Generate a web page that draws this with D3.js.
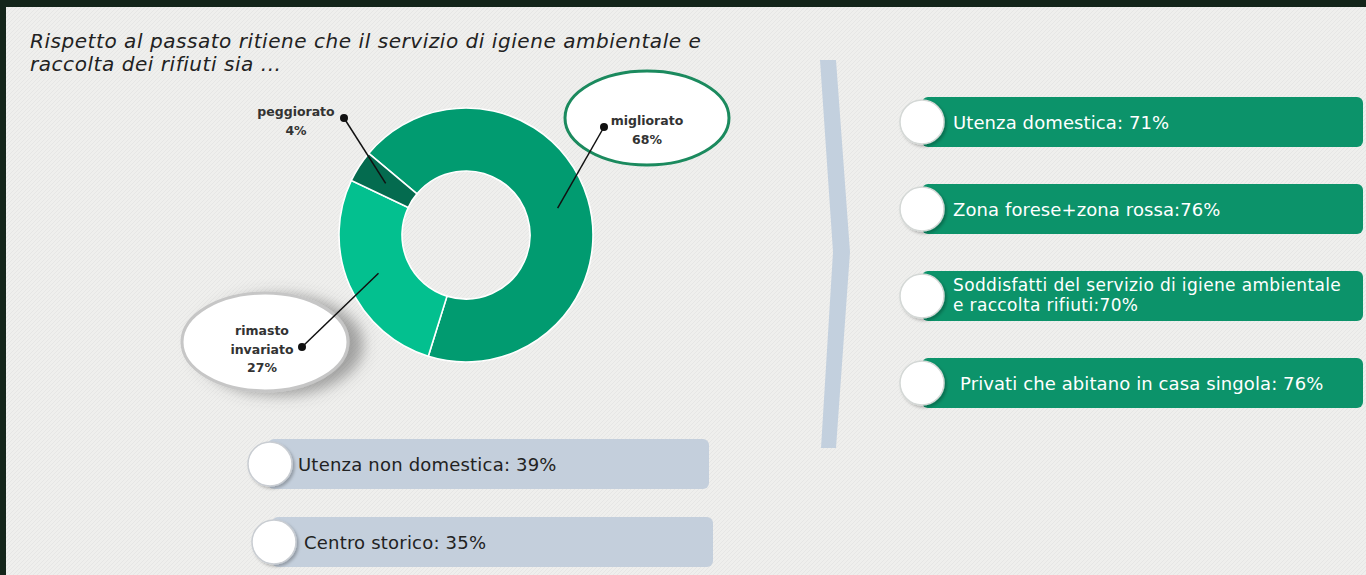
<!DOCTYPE html>
<html>
<head>
<meta charset="utf-8">
<script src="https://cdn.jsdelivr.net/npm/d3@7"></script>
<style>
  body { margin: 0; background: #14251a; }
  svg { display: block; font-family: "DejaVu Sans", Verdana, sans-serif; }
</style>
</head>
<body>
<div id="viz"></div>
<script>
// donut data
var categories = ["migliorato", "rimasto invariato", "peggiorato"],
    values = [68, 27, 4],
    sliceColors = ["#019b70", "#03c08f", "#046b4f"];

// green boxes on the right
var rightLabels = [
  "Utenza domestica: 71%",
  "Zona forese+zona rossa:76%",
  "Soddisfatti del servizio di igiene ambientale\ne raccolta rifiuti:70%",
  "Privati che abitano in casa singola: 76%"
];

// grey boxes at the bottom
var bottomLabels = ["Utenza non domestica: 39%", "Centro storico: 35%"];

var titleLines = [
  "Rispetto al passato ritiene che il servizio di igiene ambientale e",
  "raccolta dei rifiuti sia ..."
];

var width = 1366, height = 575;

// where each label callout sits (layout only)
var callout = {
  "migliorato":        {dot: [604, 127], text: [647, 125], ell: {cx: 647, cy: 118, rx: 82, ry: 47, stroke: "#1b8a5e"}},
  "rimasto invariato": {dot: [302, 347], text: [262, 335], ell: {cx: 265, cy: 342, rx: 83, ry: 49, stroke: "#c6c6c6", shadow: true}},
  "peggiorato":        {dot: [344, 118], text: [296, 116]}
};

var svg = d3.select("#viz").append("svg")
  .attr("width", width)
  .attr("height", height);

var defs = svg.append("defs");
defs.append("filter").attr("id", "ellShadow")
  .attr("x", "-30%").attr("y", "-30%").attr("width", "180%").attr("height", "180%")
  .append("feDropShadow")
  .attr("dx", 14).attr("dy", 3).attr("stdDeviation", 7)
  .attr("flood-color", "#555").attr("flood-opacity", 0.5);
defs.append("filter").attr("id", "dotShadow")
  .attr("x", "-40%").attr("y", "-40%").attr("width", "180%").attr("height", "180%")
  .append("feDropShadow")
  .attr("dx", 2).attr("dy", 2).attr("stdDeviation", 1.5)
  .attr("flood-color", "#000").attr("flood-opacity", 0.25);

var pat = defs.append("pattern").attr("id", "paper")
  .attr("width", 4).attr("height", 4).attr("patternUnits", "userSpaceOnUse");
pat.append("rect").attr("width", 4).attr("height", 4).attr("fill", "#efefed");
pat.append("path").attr("d", "M0,4 L4,0").attr("stroke", "#e3e3e1").attr("stroke-width", 0.7);

// frame + paper
svg.append("rect").attr("width", width).attr("height", height).attr("fill", "#14251a");
svg.append("rect").attr("x", 6).attr("y", 7).attr("width", width - 6).attr("height", height - 7)
  .attr("fill", "url(#paper)");

// title
svg.append("g").selectAll("text")
  .data(titleLines)
  .join("text")
  .attr("x", 30)
  .attr("y", (d, i) => 48 + i * 23)
  .attr("font-size", 20)
  .attr("letter-spacing", 0.55)
  .attr("font-style", "italic")
  .attr("fill", "#222")
  .text(d => d);

// donut
var cx = 466, cy = 235, outerR = 127, innerR = 64;

var pie = d3.pie()
  .sort(null)
  .startAngle(-50 * Math.PI / 180)
  .endAngle(310 * Math.PI / 180);

var arc = d3.arc().innerRadius(innerR).outerRadius(outerR);

var arcs = pie(values);
arcs.forEach((a, i) => a.name = categories[i]);

var donut = svg.append("g").attr("transform", "translate(" + cx + "," + cy + ")");

donut.selectAll("path")
  .data(arcs)
  .join("path")
  .attr("d", arc)
  .attr("fill", (d, i) => sliceColors[i])
  .attr("stroke", "#fff")
  .attr("stroke-width", 1.6);

// callout ellipses
var ells = arcs.filter(d => callout[d.name].ell);
svg.append("g").selectAll("ellipse")
  .data(ells)
  .join("ellipse")
  .attr("cx", d => callout[d.name].ell.cx)
  .attr("cy", d => callout[d.name].ell.cy)
  .attr("rx", d => callout[d.name].ell.rx)
  .attr("ry", d => callout[d.name].ell.ry)
  .attr("fill", "#fff")
  .attr("stroke", d => callout[d.name].ell.stroke)
  .attr("stroke-width", 3)
  .attr("filter", d => callout[d.name].ell.shadow ? "url(#ellShadow)" : null);

// leader lines from slice centroid to dot
svg.append("g").selectAll("line")
  .data(arcs)
  .join("line")
  .attr("x1", d => cx + arc.centroid(d)[0])
  .attr("y1", d => cy + arc.centroid(d)[1])
  .attr("x2", d => callout[d.name].dot[0])
  .attr("y2", d => callout[d.name].dot[1])
  .attr("stroke", "#111")
  .attr("stroke-width", 1.5);

svg.append("g").selectAll("circle")
  .data(arcs)
  .join("circle")
  .attr("cx", d => callout[d.name].dot[0])
  .attr("cy", d => callout[d.name].dot[1])
  .attr("r", 4)
  .attr("fill", "#111");

// label text: name words + percent
var labels = svg.append("g").selectAll("text")
  .data(arcs)
  .join("text")
  .attr("text-anchor", "middle")
  .attr("font-size", 12.5)
  .attr("font-weight", "bold")
  .attr("fill", "#333");

labels.each(function(d) {
  var t = d3.select(this);
  var pos = callout[d.name].text;
  var lines = d.name.split(" ").concat([d.data + "%"]);
  lines.forEach(function(l, i) {
    t.append("tspan").attr("x", pos[0]).attr("y", pos[1] + i * 18.5).text(l);
  });
});

// chevron separator
var chev = d3.line();
svg.append("path")
  .attr("d", chev([[820, 60], [836, 60], [850, 252], [836, 448], [821, 448], [833, 252]]) + "Z")
  .attr("fill", "#c3d0de");

// right green boxes
var yRight = d3.scalePoint().domain(rightLabels).range([122, 383]);
var boxH = 50, circR = 22;

var rg = svg.append("g").selectAll("g")
  .data(rightLabels)
  .join("g")
  .attr("transform", d => "translate(0," + yRight(d) + ")");

rg.append("rect")
  .attr("x", 922).attr("y", -boxH / 2)
  .attr("width", 1363 - 922).attr("height", boxH)
  .attr("rx", 6)
  .attr("fill", "#0c936a");

rg.append("circle")
  .attr("cx", 922).attr("cy", 0).attr("r", circR)
  .attr("fill", "#fff")
  .attr("stroke", "#d4d8d6").attr("stroke-width", 1.5)
  .attr("filter", "url(#dotShadow)");

rg.append("text")
  .attr("fill", "#fff")
  .each(function(d, i) {
    var parts = d.split("\n");
    var t = d3.select(this)
      .attr("font-size", parts.length > 1 ? 17 : 18)
      .attr("letter-spacing", parts.length > 1 ? 0.35 : 0.1);
    parts.forEach(function(p, j) {
      t.append("tspan")
        .attr("x", i === 3 ? 960 : 953)
        .attr("y", parts.length > 1 ? -5 + j * 19.5 : 7)
        .text(p);
    });
  });

// bottom grey boxes
var yBottom = d3.scalePoint().domain(bottomLabels).range([464, 542]);

var bg = svg.append("g").selectAll("g")
  .data(bottomLabels)
  .join("g")
  .attr("transform", (d, i) => "translate(" + (i * 4) + "," + yBottom(d) + ")");

bg.append("rect")
  .attr("x", 268).attr("y", -boxH / 2)
  .attr("width", 709 - 268).attr("height", boxH)
  .attr("rx", 6)
  .attr("fill", "#c4cfdc");

bg.append("circle")
  .attr("cx", 270).attr("cy", 0).attr("r", circR)
  .attr("fill", "#fff")
  .attr("stroke", "#c9cdd2").attr("stroke-width", 1.5)
  .attr("filter", "url(#dotShadow)");

bg.append("text")
  .attr("x", (d, i) => 298 + i * 2)
  .attr("y", 7)
  .attr("font-size", 18)
  .attr("letter-spacing", 0.2)
  .attr("fill", "#222")
  .text(d => d);
</script>
</body>
</html>
